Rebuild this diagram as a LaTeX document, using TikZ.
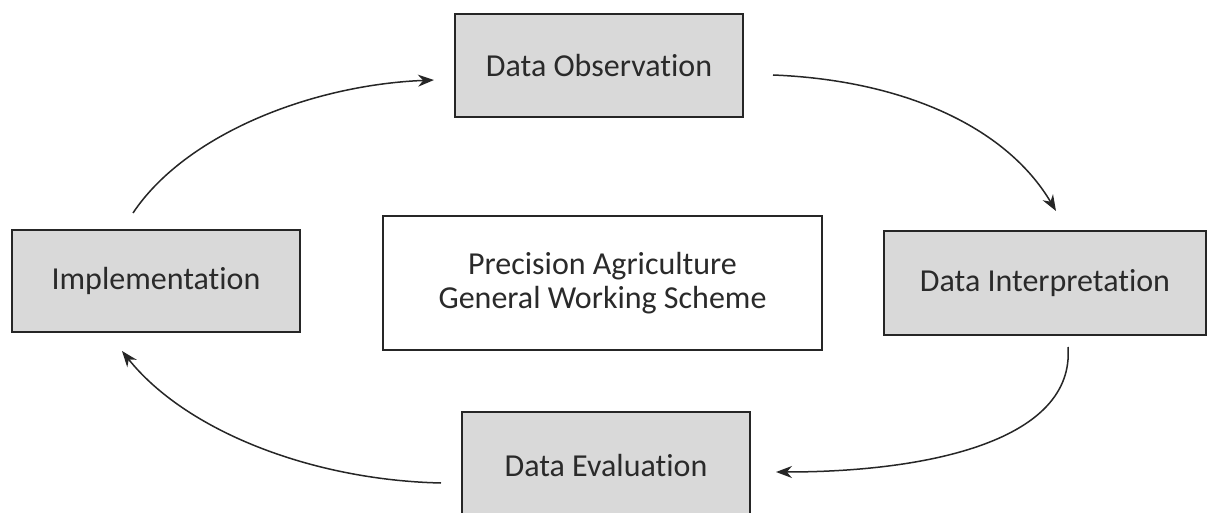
\documentclass[tikz,border=0pt]{standalone}
\usepackage{fontspec}
\setmainfont[Ligatures=NoCommon]{Carlito}
\usetikzlibrary{arrows.meta}
\definecolor{boxfill}{HTML}{D9D9D9}
\definecolor{edge}{HTML}{262626}
\definecolor{ink}{HTML}{2A2A2A}
\tikzset{
  stage/.style={draw=edge, line width=2pt, fill=boxfill, text=ink,
    font=\fontsize{32}{36}\selectfont, inner sep=0pt, align=center},
  title/.style={draw=edge, line width=2pt, fill=white, text=ink,
    font=\fontsize{32}{34}\selectfont, inner sep=0pt, align=center},
  flow/.style={draw=edge, line width=1.5pt,
    -{Stealth[length=16pt,width=12pt]}}
}
\begin{document}
\begin{tikzpicture}[x=1pt,y=-1pt]
  \clip (0,0) rectangle (1208,513);
  \fill[white] (0,0) rectangle (1208,513);

  % process stages
  \node[stage, minimum width=288pt, minimum height=103pt] (obs) at (599,65.5) {Data Observation};
  \node[stage, minimum width=322pt, minimum height=104pt] (interp) at (1045,283) {Data Interpretation};
  \node[stage, minimum width=288pt, minimum height=108pt] (eval) at (606,466) {Data Evaluation};
  \node[stage, minimum width=288pt, minimum height=102pt] (impl) at (156,281) {Implementation};

  % central caption
  \node[title, minimum width=439pt, minimum height=134pt] (center) at (602.5,283)
    {Precision Agriculture\\General Working Scheme};

  % free ends of the cycle arrows
  \coordinate (a1s) at (133,213);
  \coordinate (a1e) at (434,80);
  \coordinate (a2s) at (773,75);
  \coordinate (a2e) at (1056,211);
  \coordinate (a3s) at (1068,347);
  \coordinate (a3e) at (776,472);
  \coordinate (a4s) at (441,483);
  \coordinate (a4e) at (122,351);

  % cycle arrows
  \draw[flow] (a1s) .. controls (185,135) and (310,85) .. (a1e);
  \draw[flow] (a2s) .. controls (900,80) and (1005,125) .. (a2e);
  \draw[flow] (a3s) .. controls (1075,440) and (930,472) .. (a3e);
  \draw[flow] (a4s) .. controls (310,480) and (185,430) .. (a4e);
\end{tikzpicture}
\end{document}
